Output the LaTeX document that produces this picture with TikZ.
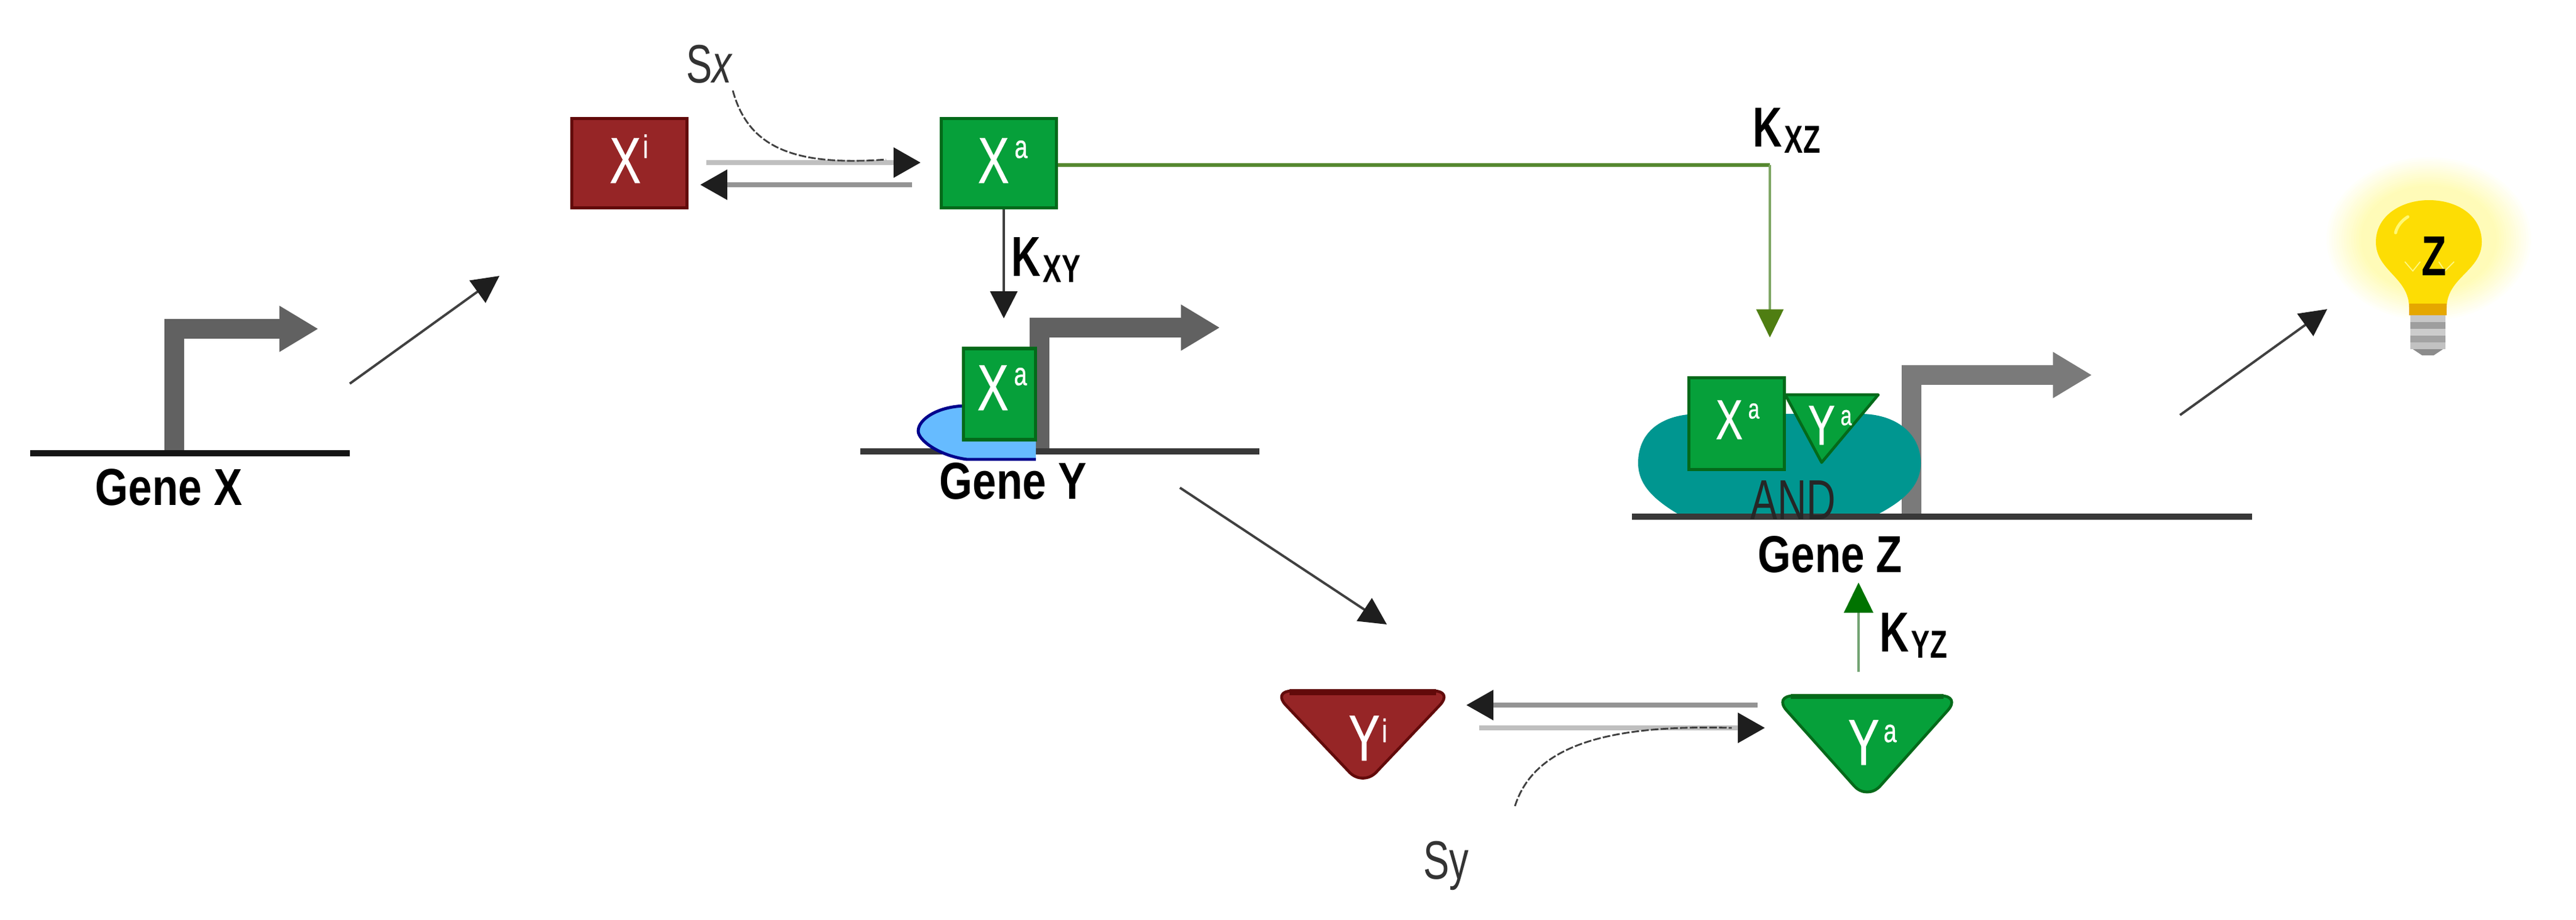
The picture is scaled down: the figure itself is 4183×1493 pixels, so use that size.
\documentclass[tikz,border=0pt]{standalone}
\usepackage{fontspec}
\setmainfont{Liberation Sans}
\newfontfamily\narrowf[FakeStretch=.72]{Liberation Sans}
\newfontfamily\wfont[FakeStretch=.72,FakeBold=.6]{Liberation Sans}
\newfontfamily\genef[FakeStretch=.82]{Liberation Sans Bold}
\newfontfamily\kf[FakeStretch=.72]{Liberation Sans Bold}
\usetikzlibrary{arrows.meta,calc}
\definecolor{grn}{HTML}{06A03A}
\definecolor{grnd}{HTML}{046A1A}
\definecolor{red1}{HTML}{962526}
\definecolor{red2}{HTML}{620A0A}
\definecolor{teal1}{HTML}{009690}
\definecolor{olive1}{HTML}{55882F}
\definecolor{olive2}{HTML}{4F7E12}
\definecolor{olive3}{HTML}{7FA765}
\definecolor{dk}{HTML}{1E1E1E}
\newcommand{\prot}[6]{{\wfont\fontsize{#3}{#3}\selectfont #1\hspace{#5}\raisebox{#4}{\fontsize{#6}{#6}\selectfont #2}}}
\newcommand{\kay}[1]{{\kf\fontsize{26}{26}\selectfont K\hspace{1.2pt}\fontsize{18}{18}\selectfont\raisebox{-3pt}{#1}}}
\tikzset{
  x=.01cm,y=-.01cm,
  txt/.style={inner sep=0,outer sep=0,anchor=base west},
  wtxt/.style={txt,text=white},
  gene/.style={txt,anchor=base,font=\genef\fontsize{24}{24}\selectfont,text=black},
  greenbox/.style={draw=grnd,fill=grn,line width=1.6pt,inner sep=0,minimum width=#1},
  redbox/.style={draw=red2,fill=red1,line width=1.6pt,inner sep=0,minimum width=#1},
  dnaline/.style={line width=2.9pt,draw=#1},
  promoter/.style={line width=9.2pt,draw=#1,-{Triangle[length=18pt,width=20pt]}},
  thin arrow/.style={line width=1.1pt,draw=#1!85!white,-{Triangle[length=12.5pt,width=12.5pt,color=dk,fill=dk]}},
  flux/.style={line width=2.2pt,draw=#1,-{Triangle[length=12.5pt,width=13.5pt,color=dk,fill=dk]}},
  signal/.style={line width=.8pt,draw=black!75,dash pattern=on 3.5pt off 1pt},
}
\begin{document}
\begin{tikzpicture}
\useasboundingbox[fill=white] (0,0) rectangle (4183,1493);

% ---- coordinates for the free ends
\coordinate (gxL) at (49,736); \coordinate (gxR) at (568,736);
\coordinate (gxS) at (283,736); \coordinate (gxB) at (283,534); \coordinate (gxT) at (517,534);
\coordinate (d1a) at (568,623); \coordinate (d1b) at (811,448);
\coordinate (gyL) at (1397,733); \coordinate (gyR) at (2045,733);
\coordinate (gyS) at (1688,733); \coordinate (gyB) at (1688,532); \coordinate (gyT) at (1981,532);
\coordinate (gzL) at (2650,839); \coordinate (gzR) at (3657,839);
\coordinate (gzS) at (3104,839); \coordinate (gzB) at (3104,609); \coordinate (gzT) at (3397,609);
\coordinate (d2a) at (1916,792); \coordinate (d2b) at (2252,1014);
\coordinate (d3a) at (3540,674); \coordinate (d3b) at (3779,502);

% ---- promoters and DNA
\draw[promoter=black!62] (gxS) -- (gxB) -- (gxT);
\draw[dnaline=black!92] (gxL) -- (gxR);
\draw[promoter=black!62] (gyS) -- (gyB) -- (gyT);
\draw[dnaline=black!78] (gyL) -- (gyR);
\draw[promoter=black!52] (gzS) -- (gzB) -- (gzT);

% ---- AND complex body
\fill[teal1] (2734,840) .. controls (2690,815) and (2660,790) .. (2660,752)
  .. controls (2660,700) and (2700,672) .. (2760,672) -- (3020,672)
  .. controls (3080,672) and (3119,705) .. (3119,752)
  .. controls (3119,790) and (3090,815) .. (3040,840) -- cycle;
\draw[dnaline=black!78] (gzL) -- (gzR);
\node[txt,anchor=base,text=black!85] (andlab) at (2912,843) {\narrowf\fontsize{26}{26}\selectfont AND};

% ---- X proteins
\node[redbox=1.87cm,minimum height=1.45cm] (xi) at (1022,265) {};
\node[greenbox=1.87cm,minimum height=1.45cm] (xa) at (1622,265) {};
\node[wtxt] (xit) at (990,297) {\prot{X}{i}{30}{11.5pt}{1pt}{15}};
\node[wtxt] (xat) at (1588,297) {\prot{X}{a}{30}{11.5pt}{2.5pt}{15}};

% ---- X activation
\coordinate (xfa) at (1147,264); \coordinate (xfb) at (1495,264);
\coordinate (xra) at (1481,300); \coordinate (xrb) at (1137,300);
\draw[flux=black!25] (xfa) -- (xfb);
\draw[flux=black!42] (xra) -- (xrb);
\coordinate (sxa) at (1190,147); \coordinate (sxb) at (1439,259);
\draw[signal] (sxa) .. controls (1215,240) and (1290,270) .. (sxb);
\node[txt,anchor=base,text=black!80] (sx) at (1152,134) {\narrowf\fontsize{25}{25}\selectfont S\textit{x}};

% ---- X to gene Y
\coordinate (xyb) at (1630,517);
\draw[thin arrow=dk] (xa.south -| xyb) -- (xyb);
\node[txt,text=black] (kxy) at (1642,448) {\kay{XY}};

% ---- blue site and bound X
\path[fill={rgb,255:red,102;green,187;blue,255}] (1682,746) -- (1570,746)
  .. controls (1525,740) and (1491,715) .. (1491,700)
  .. controls (1491,680) and (1525,659) .. (1570,659) -- (1682,659) -- cycle;
\draw[line width=1.4pt,draw=blue!55!black] (1682,746) -- (1570,746)
  .. controls (1525,740) and (1491,715) .. (1491,700)
  .. controls (1491,680) and (1525,659) .. (1570,659);
\node[greenbox=1.17cm,minimum height=1.48cm] (xab) at (1623,640) {};
\node[wtxt] (xabt) at (1587,666) {\prot{X}{a}{30}{11.5pt}{2.5pt}{15}};
\node[gene] (gy) at (1645,810) {Gene Y};
\node[gene] (gx) at (274,820) {Gene X};
\node[gene] (gz) at (2972,929) {Gene Z};

% ---- X to gene Z
\coordinate (xzc) at (2874,268); \coordinate (xzb) at (2874,548);
\draw[line width=1.5pt,draw=olive1] (xa.east |- xzc) -- (xzc);
\draw[line width=.9pt,draw=olive3,-{Triangle[length=13pt,width=12.5pt,color=olive2,fill=olive2]}] (xzc) -- (xzb);
\node[txt,text=black] (kxz) at (2846,238) {\kay{XZ}};

% ---- complex partners
\node[greenbox=1.55cm,minimum height=1.49cm] (xac) at (2820,688) {};
\node[wtxt] (xact) at (2786,713) {\prot{X}{a}{26}{9.5pt}{2.5pt}{13}};
\draw[draw=grnd,fill=grn,line width=1.3pt,line join=round] (2899,641) -- (3050,641) -- (2958,751) -- cycle;
\node[wtxt] (yact) at (2936,722) {\prot{Y}{a}{26}{9pt}{2.5pt}{13}};

% ---- diagonal arrows
\draw[thin arrow=dk] (d1a) -- (d1b);
\draw[thin arrow=dk] (d2a) -- (d2b);
\draw[thin arrow=dk] (d3a) -- (d3b);

% ---- Y proteins
\draw[draw=red2,fill=red1,line width=1.3pt,rounded corners=9pt,line join=round] (2066,1122) -- (2360,1122) -- (2213,1277) -- cycle;
\draw[red2,line width=2.6pt] (2094,1124) -- (2332,1124);
\draw[draw=grnd,fill=grn,line width=1.3pt,rounded corners=9pt,line join=round] (2880,1130) -- (3184,1130) -- (3032,1300) -- cycle;
\draw[grnd,line width=2.2pt] (2908,1131) -- (3156,1131);
\node[wtxt] (yit) at (2190,1235) {\prot{Y}{i}{30}{8.5pt}{1pt}{15}};
\node[wtxt] (yat) at (3001,1242) {\prot{Y}{a}{30}{10.5pt}{2pt}{15}};

% ---- Y activation
\coordinate (yra) at (2854,1145); \coordinate (yrb) at (2381,1145);
\coordinate (yfa) at (2402,1182); \coordinate (yfb) at (2866,1182);
\draw[flux=black!42] (yra) -- (yrb);
\draw[flux=black!25] (yfa) -- (yfb);
\coordinate (sya) at (2460,1309); \coordinate (syb) at (2812,1182);
\draw[signal] (sya) .. controls (2490,1215) and (2600,1176) .. (syb);
\node[txt,anchor=base,text=black!80] (sy) at (2348,1427) {\narrowf\fontsize{25}{25}\selectfont Sy};

% ---- Y to gene Z
\coordinate (yza) at (3018,1091); \coordinate (yzb) at (3018,946);
\draw[line width=.9pt,draw=green!35!black!55,-{Triangle[length=14pt,width=13.5pt,color=green!45!black,fill=green!45!black]}] (yza) -- (yzb);
\node[txt,text=black] (kyz) at (3052,1058) {\kay{YZ}};

% ---- bulb
\foreach \i in {20,19,...,1}{
  \pgfmathsetmacro{\tint}{min(28,(20-\i)*1.9)}
  \fill[yellow!\tint!white] (3944,388) ellipse [x radius={90+\i*4},y radius={70+\i*3.3}];
}
\fill[yellow!80!orange] (3912,500) .. controls (3912,450) and (3858,440) .. (3858,393)
  .. controls (3858,350) and (3900,325) .. (3944,325)
  .. controls (3990,325) and (4030,350) .. (4030,393)
  .. controls (4030,440) and (3973,450) .. (3973,500) -- cycle;
\fill[orange!55!yellow!90!black] (3912,493) rectangle (3973,512);
\foreach \yy/\cc in {512/black!22,523/black!38,534/black!20,545/black!36,556/black!24}{
  \fill[\cc] (3914,\yy) rectangle (3971,\yy+11);
}
\fill[black!45] (3918,567) -- (3967,567) -- (3952,577) -- (3933,577) -- cycle;
\draw[yellow!55!white,line width=1.4pt,line cap=round] (3890,378) .. controls (3892,368) and (3900,358) .. (3910,352);
\draw[yellow!50!white,line width=.5pt] (3905,425) -- (3918,440) -- (3930,425) (3960,425) -- (3970,440) -- (3985,425);
\node[txt,anchor=base,text=black] (zl) at (3953,447) {\kf\fontsize{26}{26}\selectfont Z};
\end{tikzpicture}
\end{document}
